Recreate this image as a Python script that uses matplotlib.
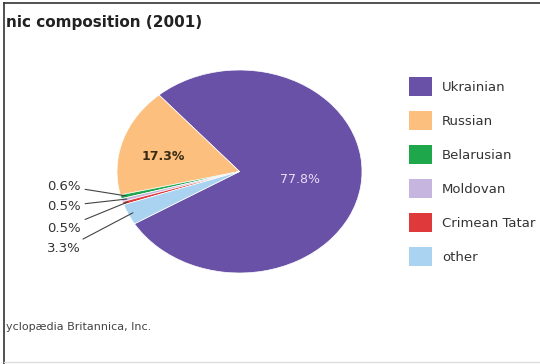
import numpy as np
import matplotlib
matplotlib.use("Agg")
import matplotlib.pyplot as plt
from matplotlib.lines import Line2D
from matplotlib.patches import Patch

plt.rcParams['font.family'] = ['DejaVu Sans']

groups = ['Ukrainian', 'Russian', 'Belarusian', 'Moldovan', 'Crimean Tatar', 'other']
shares = [77.8, 17.3, 0.6, 0.5, 0.5, 3.3]
colors = ['#6a51a8', '#fcbf7e', '#1ea84b', '#c6b6df', '#e0393b', '#a9d3f1']
title = 'nic composition (2001)'
credit = 'yclopædia Britannica, Inc.'

W, H = 540, 364
fig = plt.figure(figsize=(W / 100, H / 100), dpi=100)
fig.patch.set_facecolor('white')

def px(x, y):
    return (x / W, 1 - y / H)

# pie is stretched a little wider than tall
ax = fig.add_axes([117 / W, (H - 273) / H, 245 / W, 203 / H])
wedges, _ = ax.pie(shares, colors=colors, startangle=211, counterclock=True,
                   wedgeprops=dict(edgecolor='white', linewidth=0.5))
ax.set_aspect('auto')
ax.set_xlim(-1, 1)
ax.set_ylim(-1, 1)
ax.axis('off')

def mid(w):
    return np.deg2rad((w.theta1 + w.theta2) / 2)

# percentages inside the two big slices
a = mid(wedges[0])
ax.text(0.5 * np.cos(a), 0.5 * np.sin(a), f'{shares[0]}%', ha='center', va='center',
        fontsize=9, color='#e6def5')
a = mid(wedges[1]) + np.deg2rad(4)
ax.text(0.64 * np.cos(a), 0.64 * np.sin(a), f'{shares[1]}%', ha='center', va='center',
        fontsize=9, fontweight='bold', color='#3a2a14')

# small slices get labels on the left with leader lines
label_y = [186, 206, 228, 249]
for w, v, ly in zip(wedges[2:], shares[2:], label_y):
    a = mid(w)
    ax.annotate(f'{v}%', xy=(0.96 * np.cos(a), 0.96 * np.sin(a)),
                xytext=(81, H - ly), textcoords='figure pixels',
                ha='right', va='center', fontsize=9.5, color='#333333',
                arrowprops=dict(arrowstyle='-', color='#444444', lw=0.8,
                                shrinkA=1, shrinkB=0))

handles = [Patch(facecolor=c, edgecolor='none') for c in colors]
fig.legend(handles, groups, loc='upper left', bbox_to_anchor=px(409, 77),
           frameon=False, fontsize=9.5, handlelength=1.74, handleheight=1.84,
           labelspacing=1.14, handletextpad=0.75, borderpad=0, borderaxespad=0,
           labelcolor='#333333')

fig.text(6 / W, 1 - 22 / H, title, ha='left', va='center',
         fontsize=11, fontweight='bold', color='#222222')
fig.text(6 / W, 1 - 327 / H, credit, ha='left', va='center',
         fontsize=8, color='#444444')

# frame lines
fig.add_artist(Line2D([4 / W, 4 / W], [0, 1 - 3 / H], color='#333333', lw=1.2))
fig.add_artist(Line2D([4 / W, 1], [1 - 3 / H, 1 - 3 / H], color='#333333', lw=1.2))
fig.add_artist(Line2D([4 / W, 1], [1 - 362 / H, 1 - 362 / H], color='#dddddd', lw=1.0))

fig.savefig('out.png', dpi=100)
